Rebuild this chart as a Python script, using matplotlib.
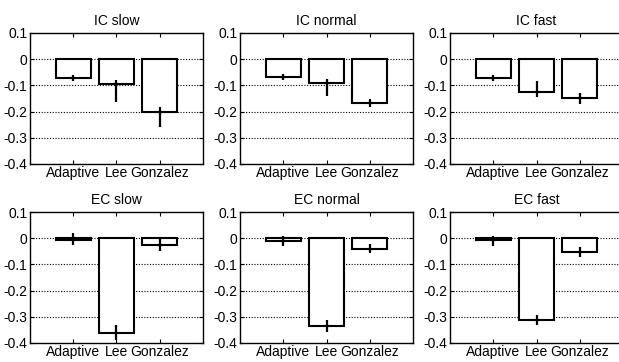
import numpy as np
import matplotlib.pyplot as plt

plt.rcParams['font.family'] = ['Liberation Sans', 'DejaVu Sans']
plt.rcParams['font.size'] = 10

methods = ['Adaptive', 'Lee', 'Gonzalez']
titles = ['IC slow', 'IC normal', 'IC fast', 'EC slow', 'EC normal', 'EC fast']

# bar heights
means = [
    [-0.073, -0.094, -0.203],
    [-0.067, -0.092, -0.167],
    [-0.070, -0.124, -0.149],
    [-0.008, -0.361, -0.026],
    [-0.009, -0.337, -0.040],
    [-0.008, -0.311, -0.053],
]
# error bar ends (top, bottom)
err_top = [
    [-0.062, -0.078, -0.184],
    [-0.057, -0.076, -0.151],
    [-0.059, -0.085, -0.129],
    [0.018, -0.332, 0.003],
    [0.010, -0.313, -0.022],
    [0.010, -0.294, -0.034],
]
err_bot = [
    [-0.084, -0.162, -0.257],
    [-0.080, -0.142, -0.184],
    [-0.082, -0.146, -0.171],
    [-0.025, -0.387, -0.049],
    [-0.028, -0.357, -0.057],
    [-0.028, -0.332, -0.072],
]

fig = plt.figure(figsize=(6.19, 3.62), dpi=100)
W, H = 619, 362
lefts = [30, 240, 450]
tops = [33, 212]
aw, ah = 173, 131

x = np.arange(1, 4)
for i in range(6):
    r, c = divmod(i, 3)
    ax = fig.add_axes([lefts[c] / W, (H - tops[r] - ah) / H, aw / W, ah / H])
    m = np.array(means[i])
    lo = m - np.array(err_bot[i])
    hi = np.array(err_top[i]) - m
    ax.bar(x, m, width=0.8, color='white', edgecolor='black', linewidth=1.5, zorder=2)
    ax.errorbar(x, m, yerr=[lo, hi], fmt='none', ecolor='black', elinewidth=1.6,
                capsize=0, zorder=3)
    ax.plot(x, m, linestyle='none', marker='_', markersize=5, mew=1.5, color='black', zorder=3)
    ax.set_xlim(0, 4)
    ax.set_ylim(-0.4, 0.1)
    ax.set_yticks([-0.4, -0.3, -0.2, -0.1, 0, 0.1])
    ax.set_yticklabels(['-0.4', '-0.3', '-0.2', '-0.1', '0', '0.1'])
    ax.set_xticks(x)
    ax.set_xticklabels(methods)
    ax.tick_params(direction='in', length=3, width=0.8, top=True, right=True, pad=2)
    ax.tick_params(axis='x', pad=1.5)
    for y in [-0.3, -0.2, -0.1, 0]:
        ax.axhline(y, color='black', linestyle=(0, (1, 1.5)), linewidth=0.8, zorder=1)
    for s in ax.spines.values():
        s.set_linewidth(1.0)
    ax.set_title(titles[i], fontsize=10, pad=6)

plt.savefig('out.png', dpi=100)
